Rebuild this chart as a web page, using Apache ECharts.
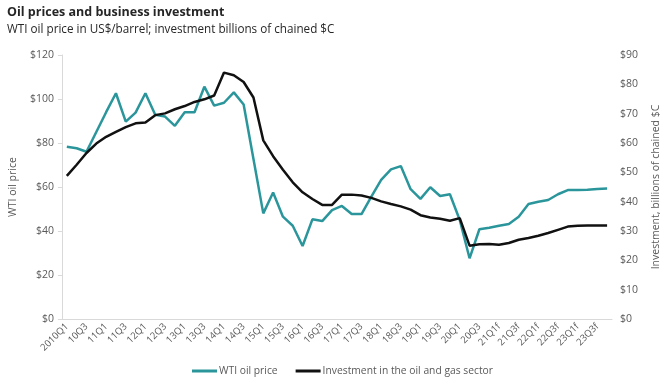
<!DOCTYPE html>
<html>
<head>
<meta charset="utf-8">
<script src="https://cdn.jsdelivr.net/npm/echarts@6/dist/echarts.min.js"></script>
<style>html,body{margin:0;padding:0;background:#fff}#c{width:670px;height:384px}</style>
</head>
<body>
<div id="c"></div>
<script>
const categories = [
 '2010Q1','10Q2','10Q3','10Q4','11Q1','11Q2','11Q3','11Q4','12Q1','12Q2','12Q3','12Q4',
 '13Q1','13Q2','13Q3','13Q4','14Q1','14Q2','14Q3','14Q4','15Q1','15Q2','15Q3','15Q4',
 '16Q1','16Q2','16Q3','16Q4','17Q1','17Q2','17Q3','17Q4','18Q1','18Q2','18Q3','18Q4',
 '19Q1','19Q2','19Q3','19Q4','20Q1','20Q2','20Q3','20Q4','21Q1f','21Q2f','21Q3f','21Q4f',
 '22Q1f','22Q2f','22Q3f','22Q4f','23Q1f','23Q2f','23Q3f','23Q4f'
];
const wtiPrice = [
 78.3, 77.6, 76.0, 85.0, 94.0, 102.6, 89.7, 93.8, 102.6, 92.8, 92.0, 87.8,
 94.0, 94.0, 105.6, 97.0, 98.3, 103.0, 97.5, 72.7, 48.0, 57.5, 46.5, 42.4,
 33.2, 45.3, 44.5, 49.5, 51.4, 47.7, 47.7, 55.6, 63.2, 68.0, 69.5, 59.0,
 54.6, 59.9, 55.9, 56.7, 45.0, 27.6, 40.8, 41.5, 42.4, 43.2, 46.5, 52.3,
 53.3, 54.1, 56.7, 58.6, 58.6, 58.8, 59.1, 59.3
];
const investment = [
 48.8, 52.6, 56.6, 59.8, 62.1, 63.8, 65.4, 66.7, 67.0, 69.5, 70.1, 71.5,
 72.6, 74.0, 74.9, 76.2, 84.0, 83.1, 80.8, 75.5, 60.9, 55.5, 50.9, 46.6,
 43.2, 40.9, 38.9, 38.9, 42.4, 42.4, 42.1, 41.3, 40.1, 39.2, 38.4, 37.3,
 35.4, 34.6, 34.2, 33.5, 34.4, 25.0, 25.5, 25.6, 25.3, 25.9, 27.0, 27.6,
 28.4, 29.3, 30.4, 31.5, 31.8, 31.9, 31.9, 31.9
];
const leftTicks = { min: 0, max: 120, interval: 20 };
const rightTicks = { min: 0, max: 90, interval: 10 };

const chart = echarts.init(document.getElementById('c'), null, { renderer: 'canvas' });
const grey = '#595959';
const font = "'Open Sans', 'Noto Sans', sans-serif";
chart.setOption({
  animation: false,
  backgroundColor: '#fff',
  textStyle: { fontFamily: font },
  title: [
    { text: 'Oil prices and business investment', left: 2, top: 1,
      textStyle: { fontSize: 12.5, fontWeight: 'bold', color: '#262626', fontFamily: font } },
    { text: 'WTI oil price in US$/barrel; investment billions of chained $C', left: 2, top: 19,
      textStyle: { fontSize: 11.7, fontWeight: 'normal', color: '#262626', fontFamily: font } }
  ],
  legend: {
    bottom: 3, left: 187, itemWidth: 25, itemHeight: 3, itemGap: 18,
    icon: 'rect',
    textStyle: { fontSize: 10.3, color: grey, fontFamily: font, padding: [0, 0, 0, -3] },
    data: ['WTI oil price', 'Investment in the oil and gas sector']
  },
  grid: { left: 43, right: 47, top: 55, bottom: 65, containLabel: false },
  xAxis: {
    type: 'category', data: categories, boundaryGap: true,
    axisLine: { show: true, lineStyle: { color: '#d9d9d9' } },
    axisTick: { show: false },
    axisLabel: { interval: 1, rotate: 45, fontSize: 9.5, color: grey, margin: 6, fontFamily: font }
  },
  yAxis: [
    { type: 'value', min: leftTicks.min, max: leftTicks.max, interval: leftTicks.interval,
      name: 'WTI oil price', nameLocation: 'middle', nameGap: 33, nameRotate: 90,
      nameTextStyle: { fontSize: 10.5, color: grey, fontFamily: font },
      axisLine: { show: true, lineStyle: { color: '#d9d9d9' } },
      axisTick: { show: true, length: 4, lineStyle: { color: '#d9d9d9' } },
      splitLine: { show: false },
      axisLabel: { formatter: v => '$' + v, fontSize: 10.5, color: grey, margin: 8, fontFamily: font } },
    { type: 'value', min: rightTicks.min, max: rightTicks.max, interval: rightTicks.interval,
      name: 'Investment, billions of chained $C', nameLocation: 'middle', nameGap: 39, nameRotate: 90,
      nameTextStyle: { fontSize: 10.5, color: grey, fontFamily: font },
      axisLine: { show: false }, axisTick: { show: false }, splitLine: { show: false },
      axisLabel: { formatter: v => '$' + v, fontSize: 10.5, color: grey, margin: 8, fontFamily: font } }
  ],
  series: [
    { name: 'WTI oil price', type: 'line', data: wtiPrice, yAxisIndex: 0,
      symbol: 'none', lineStyle: { width: 2.5, color: '#2a969b' }, itemStyle: { color: '#2a969b' } },
    { name: 'Investment in the oil and gas sector', type: 'line', data: investment, yAxisIndex: 1,
      symbol: 'none', lineStyle: { width: 2.5, color: '#111111' }, itemStyle: { color: '#111111' } }
  ]
});
</script>
</body>
</html>
